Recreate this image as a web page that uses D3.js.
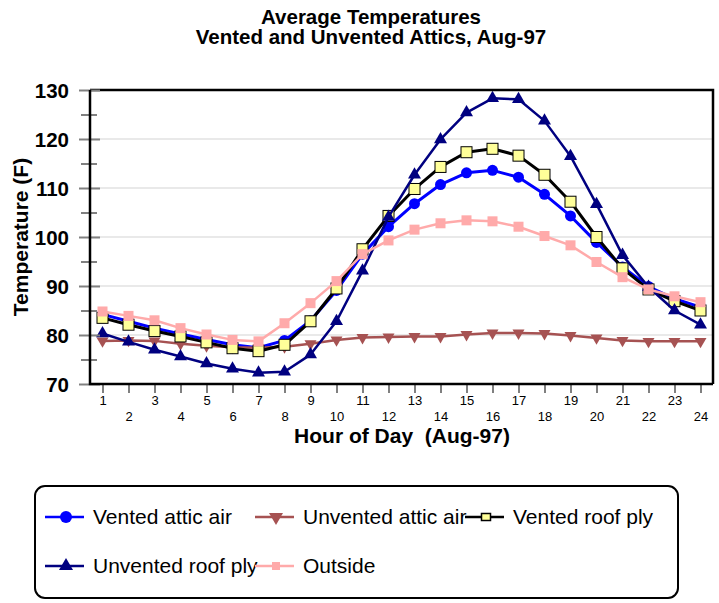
<!DOCTYPE html>
<html>
<head>
<meta charset="utf-8">
<script src="https://cdn.jsdelivr.net/npm/d3@7"></script>
<style>
  html, body { margin: 0; padding: 0; background: #fff; }
  svg { display: block; font-family: "Liberation Sans", Arial, sans-serif; }
</style>
</head>
<body>
<svg id="chart" width="719" height="603"></svg>
<script>
// Hourly average temperatures (°F), August 1997
const hours = d3.range(1, 25);

const ventedAtticAir = [84.2, 82.8, 81.4, 80.2, 79.1, 78.0, 77.4, 78.9, 82.9, 89.1, 96.5, 102.1,
  106.8, 110.7, 113.1, 113.6, 112.2, 108.7, 104.3, 98.9, 93.9, 89.9, 87.4, 85.7];
const unventedAtticAir = [78.8, 78.9, 78.8, 78.2, 77.8, 77.5, 77.4, 77.6, 78.2, 79.0, 79.5, 79.6,
  79.7, 79.7, 80.1, 80.4, 80.4, 80.3, 79.9, 79.4, 78.9, 78.7, 78.7, 78.7];
const ventedRoofPly = [83.5, 82.1, 80.8, 79.7, 78.5, 77.3, 76.7, 78.0, 82.8, 89.5, 97.5, 104.3,
  109.8, 114.3, 117.3, 118.0, 116.6, 112.7, 107.2, 100.0, 93.6, 89.3, 86.9, 85.0];
const unventedRoofPly = [80.3, 78.6, 77.0, 75.6, 74.2, 73.1, 72.3, 72.5, 76.0, 82.8, 93.1, 104.1,
  112.7, 119.9, 125.4, 128.3, 128.1, 123.7, 116.5, 106.7, 96.3, 89.8, 85.0, 82.1];
const outside = [84.8, 83.9, 83.0, 81.4, 80.1, 79.0, 78.7, 82.4, 86.5, 91.0, 96.5, 99.3,
  101.5, 102.8, 103.4, 103.2, 102.1, 100.2, 98.3, 94.9, 91.8, 89.3, 87.9, 86.7];

const yMajorTicks = [70, 80, 90, 100, 110, 120, 130];
const yMinorTicks = [75, 85, 95, 105, 115, 125];
const gridValues = [80, 90, 100, 110, 120];

const titleLines = ["Average Temperatures", "Vented and Unvented Attics, Aug-97"];
const xTitle = "Hour of Day  (Aug-97)";
const yTitle = "Temperature (F)";

// Series styling
const series = [
  { name: "Vented attic air",   values: ventedAtticAir,   color: "#0000ff", width: 3,   marker: "circle" },
  { name: "Unvented attic air", values: unventedAtticAir, color: "#a65252", width: 2.5, marker: "down" },
  { name: "Vented roof ply",    values: ventedRoofPly,    color: "#000000", width: 3,   marker: "square", fill: "#ffff99" },
  { name: "Unvented roof ply",  values: unventedRoofPly,  color: "#000080", width: 2.5, marker: "up" },
  { name: "Outside",            values: outside,          color: "#ffaaaa", width: 2.5, marker: "pinkSquare" }
];

const svg = d3.select("#chart");
const plot = { left: 90, right: 713, top: 90, bottom: 384 };

const x = d3.scaleLinear().domain([0.5, 24.5]).range([89.5, 713.5]);
const y = d3.scaleLinear().domain([70, 130]).range([plot.bottom, plot.top]);

// Title
svg.append("g").selectAll("text").data(titleLines).join("text")
  .attr("x", 371).attr("y", (d, i) => 24 + i * 20)
  .attr("text-anchor", "middle")
  .attr("font-size", 20.5).attr("font-weight", "bold")
  .text(d => d);

// Horizontal gridlines
svg.append("g").selectAll("line").data(gridValues).join("line")
  .attr("x1", plot.left).attr("x2", plot.right)
  .attr("y1", d => y(d)).attr("y2", d => y(d))
  .attr("stroke", "#e2e2e2").attr("stroke-width", 1.5);

// Marker path helpers
function triangle(w, down) {
  const h = w * 0.866;
  const s = down ? -1 : 1;
  return `M0,${-s * h * 2 / 3}L${-w / 2},${s * h / 3}L${w / 2},${s * h / 3}Z`;
}

function drawMarker(g, kind, cx, cy, legend) {
  if (kind === "circle") {
    g.append("circle").attr("cx", cx).attr("cy", cy).attr("r", legend ? 6 : 5.5).attr("fill", "#0000ff");
  } else if (kind === "down") {
    g.append("path").attr("transform", `translate(${cx},${cy})`)
      .attr("d", triangle(legend ? 14 : 12, true)).attr("fill", "#a65252");
  } else if (kind === "up") {
    g.append("path").attr("transform", `translate(${cx},${cy})`)
      .attr("d", triangle(legend ? 14 : 13, false)).attr("fill", "#000080");
  } else if (kind === "square") {
    const w = legend ? 9 : 11, h = legend ? 7 : 11;
    g.append("rect").attr("x", cx - w / 2).attr("y", cy - h / 2).attr("width", w).attr("height", h)
      .attr("fill", "#ffff99").attr("stroke", "#000").attr("stroke-width", legend ? 1.5 : 1);
  } else if (kind === "pinkSquare") {
    const w = legend ? 8 : 10;
    g.append("rect").attr("x", cx - w / 2).attr("y", cy - w / 2).attr("width", w).attr("height", w)
      .attr("fill", "#ffaaaa");
  }
}

// Series lines and markers
const line = d3.line().x((d, i) => x(hours[i])).y(d => y(d));
series.forEach(s => {
  const g = svg.append("g");
  g.append("path").datum(s.values).attr("d", line)
    .attr("fill", "none").attr("stroke", s.color).attr("stroke-width", s.width)
    .attr("stroke-linejoin", "round");
  s.values.forEach((v, i) => drawMarker(g, s.marker, x(hours[i]), y(v), false));
});

// Plot frame (top and right edges)
svg.append("path")
  .attr("d", `M${plot.left},${plot.top}H${plot.right}V${plot.bottom}`)
  .attr("fill", "none").attr("stroke", "#000").attr("stroke-width", 2.5);

// X axis
const xAxis = svg.append("g").attr("transform", `translate(0,${plot.bottom})`)
  .call(d3.axisBottom(x).tickValues(hours).tickSize(9).tickSizeOuter(0).tickFormat(d3.format("d")));
xAxis.select(".domain").remove();
xAxis.selectAll(".tick line").attr("stroke", "#808080").attr("stroke-width", 2);
xAxis.selectAll(".tick text")
  .attr("y", d => (d % 2 === 1 ? 21 : 37)).attr("dy", null)
  .attr("font-size", 13).attr("fill", "#000")
  .attr("font-family", "Liberation Sans, Arial, sans-serif");

// Y axis: major and minor ticks straddling the axis line
const yAxis = svg.append("g").attr("transform", `translate(${plot.left},0)`)
  .call(d3.axisLeft(y).tickValues(yMajorTicks).tickSize(11).tickPadding(10));
yAxis.select(".domain").remove();
yAxis.selectAll(".tick line").attr("x1", -11).attr("x2", 10)
  .attr("stroke", "#808080").attr("stroke-width", 2);
yAxis.selectAll(".tick text")
  .attr("x", -21).attr("dy", "0.35em")
  .attr("font-size", 20.5).attr("font-weight", "bold").attr("fill", "#000")
  .attr("font-family", "Liberation Sans, Arial, sans-serif");

const yMinor = svg.append("g").attr("transform", `translate(${plot.left},0)`)
  .call(d3.axisLeft(y).tickValues(yMinorTicks).tickSize(9).tickFormat(""));
yMinor.select(".domain").remove();
yMinor.selectAll(".tick line").attr("x1", -9).attr("x2", 7)
  .attr("stroke", "#808080").attr("stroke-width", 2);

// Axis lines
svg.append("path")
  .attr("d", `M${plot.left},${plot.top}V${plot.bottom}H${plot.right}`)
  .attr("fill", "none").attr("stroke", "#000").attr("stroke-width", 2.5);

// Axis titles
svg.append("text").attr("x", 402).attr("y", 443)
  .attr("text-anchor", "middle").attr("font-size", 21).attr("font-weight", "bold")
  .style("white-space", "pre")
  .text(xTitle);
svg.append("text").attr("transform", "translate(28,237) rotate(-90)")
  .attr("text-anchor", "middle").attr("font-size", 21).attr("font-weight", "bold")
  .text(yTitle);

// Legend
const legend = svg.append("g");
legend.append("rect").attr("x", 35).attr("y", 486).attr("width", 643).attr("height", 112)
  .attr("rx", 10).attr("fill", "#fff").attr("stroke", "#000").attr("stroke-width", 2);
series.forEach((s, i) => {
  const col = i % 3, row = Math.floor(i / 3);
  const lx = 45 + col * 210, ly = 517 + row * 49;
  const g = legend.append("g");
  g.append("line").attr("x1", lx).attr("x2", lx + 39).attr("y1", ly).attr("y2", ly)
    .attr("stroke", s.color).attr("stroke-width", 2.5);
  drawMarker(g, s.marker, lx + 21, ly, true);
  g.append("text").attr("x", lx + 48).attr("y", ly + 7)
    .attr("font-size", 21).text(s.name);
});
</script>
</body>
</html>
